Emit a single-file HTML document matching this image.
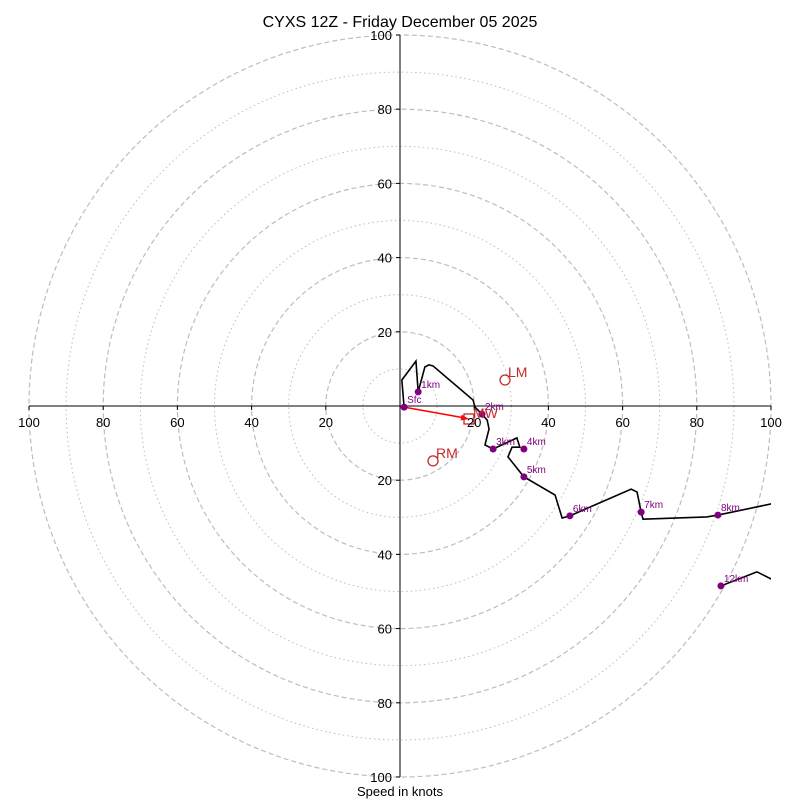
<!DOCTYPE html>
<html><head><meta charset="utf-8"><style>
body{margin:0;background:#fff;}
svg text{font-family:"Liberation Sans",sans-serif;}
</style></head><body>
<svg id="chart" width="800" height="800" viewBox="0 0 800 800" xmlns="http://www.w3.org/2000/svg">
<text x="400" y="27" text-anchor="middle" font-size="16">CYXS 12Z - Friday December 05 2025</text>
<text x="400" y="796" text-anchor="middle" font-size="13">Speed in knots</text>
<defs><clipPath id="clip"><rect x="29" y="35" width="742" height="742"/></clipPath></defs>
<g id="rings"></g><g id="axes"></g><g id="data" clip-path="url(#clip)"></g><g id="labels"></g>
</svg>
<script>
const ringSpeeds=[10,20,30,40,50,60,70,80,90,100];
const tickLabels=[20,40,60,80,100];
const traceU=[1.1,0.5,4.3,4.9,6.7,7.8,8.9,19.7,20.2,22.1,23.5,24.0,22.9,25.1,31.5,32.3,30.2,29.1,33.4,41.8,43.7,45.8,62.3,63.9,65.0,65.5,82.7,85.7,100,107];
const traceV=[-0.3,7.0,12.1,3.8,10.5,11.1,10.8,1.6,-0.3,-2.2,-3.8,-6.2,-10.5,-11.6,-8.6,-11.1,-11.1,-13.7,-19.1,-24.0,-30.2,-29.6,-22.4,-23.2,-28.6,-30.5,-29.9,-29.4,-26.4,-25];
const upperU=[86.5,96.2,100,107];
const upperV=[-48.5,-44.7,-46.6,-50];
const markerNames=["Sfc","1km","2km","3km","4km","5km","6km","7km","8km","12km"];
const markerU=[1.1,4.9,22.1,25.1,33.4,33.4,45.8,65.0,85.7,86.5];
const markerV=[-0.3,3.8,-2.2,-11.6,-11.6,-19.1,-29.6,-28.6,-29.4,-48.5];
const lmUV=[28.3,7.0], rmUV=[8.9,-14.8], mwUV=[18.6,-3.5];

const CX=400,CY=406,K=3.71;
const sx=u=>CX+u*K, sy=v=>CY-v*K;
const NS="http://www.w3.org/2000/svg";
function mk(tag,attrs,parent){const e=document.createElementNS(NS,tag);for(const k in attrs)e.setAttribute(k,attrs[k]);document.getElementById(parent).appendChild(e);return e;}

ringSpeeds.forEach(s=>{
  const c=mk('circle',{cx:CX,cy:CY,r:s*K,fill:'none',stroke:'#bdbdbd','stroke-width':s%20===0?1.2:1,'stroke-dasharray':s%20===0?'5,3':'1.5,3'},'rings');
  
  
});
let a=mk('line',{x1:29,y1:CY,x2:771,y2:CY,stroke:'#000','stroke-width':1},'axes');


a=mk('line',{x1:CX,y1:35,x2:CX,y2:777,stroke:'#000','stroke-width':1},'axes');


tickLabels.forEach(t=>{
  [-1,1].forEach(sgn=>{
    const x=sx(sgn*t);
    mk('line',{x1:x,y1:CY,x2:x,y2:CY+4,stroke:'#000'},'axes');
    const tx=mk('text',{x:x,y:CY+21,'text-anchor':'middle','font-size':13},'labels');
    tx.textContent=t;
    
    
    const y=sy(sgn*t);
    mk('line',{x1:CX-4,y1:y,x2:CX,y2:y,stroke:'#000'},'axes');
    const ty=mk('text',{x:CX-8,y:y+5,'text-anchor':'end','font-size':13},'labels');
    ty.textContent=t;
    
    
  });
});
let p=mk('polyline',{points:traceU.map((u,i)=>sx(u)+','+sy(traceV[i])).join(' '),fill:'none',stroke:'#000','stroke-width':1.6},'data');


p=mk('polyline',{points:upperU.map((u,i)=>sx(u)+','+sy(upperV[i])).join(' '),fill:'none',stroke:'#000','stroke-width':1.6},'data');


// storm motion arrow
const ax1=sx(markerU[0]),ay1=sy(markerV[0]),ax2=sx(mwUV[0]),ay2=sy(mwUV[1]);
p=mk('line',{x1:ax1,y1:ay1,x2:ax2-4,y2:ay2-1,stroke:'#f00','stroke-width':1.5},'data');


const ang=Math.atan2(ay2-ay1,ax2-ax1);
const hx=ax2,hy=ay2;
p=mk('polygon',{points:[hx+','+hy,(hx-8*Math.cos(ang)+3*Math.sin(ang))+','+(hy-8*Math.sin(ang)-3*Math.cos(ang)),(hx-8*Math.cos(ang)-3*Math.sin(ang))+','+(hy-8*Math.sin(ang)+3*Math.cos(ang))].join(' '),fill:'#f00'},'data');


markerNames.forEach((n,i)=>{
  const c=mk('circle',{cx:sx(markerU[i]),cy:sy(markerV[i]),r:3.5,fill:'#800080'},'data');
  
  
  const t=mk('text',{x:sx(markerU[i])+3,y:sy(markerV[i])-4,'font-size':10,fill:'#800080'},'data');
  t.textContent=n;
  
  
});
[[lmUV,'LM'],[rmUV,'RM']].forEach(([uv,n])=>{
  const c=mk('circle',{cx:sx(uv[0]),cy:sy(uv[1]),r:5,fill:'none',stroke:'#c62828','stroke-width':1.3},'data');
  
  
  const t=mk('text',{x:sx(uv[0])+3,y:sy(uv[1])-3,'font-size':14,fill:'#c62828'},'data');
  t.textContent=n;
  
  
});
let r=mk('rect',{x:sx(mwUV[0])-5,y:sy(mwUV[1])-5,width:10,height:10,fill:'none',stroke:'#c62828','stroke-width':1.3},'data');


r=mk('text',{x:sx(mwUV[0])+4,y:sy(mwUV[1])-1,'font-size':14,fill:'#c62828'},'data');
r.textContent='MW';


</script>
</body></html>
